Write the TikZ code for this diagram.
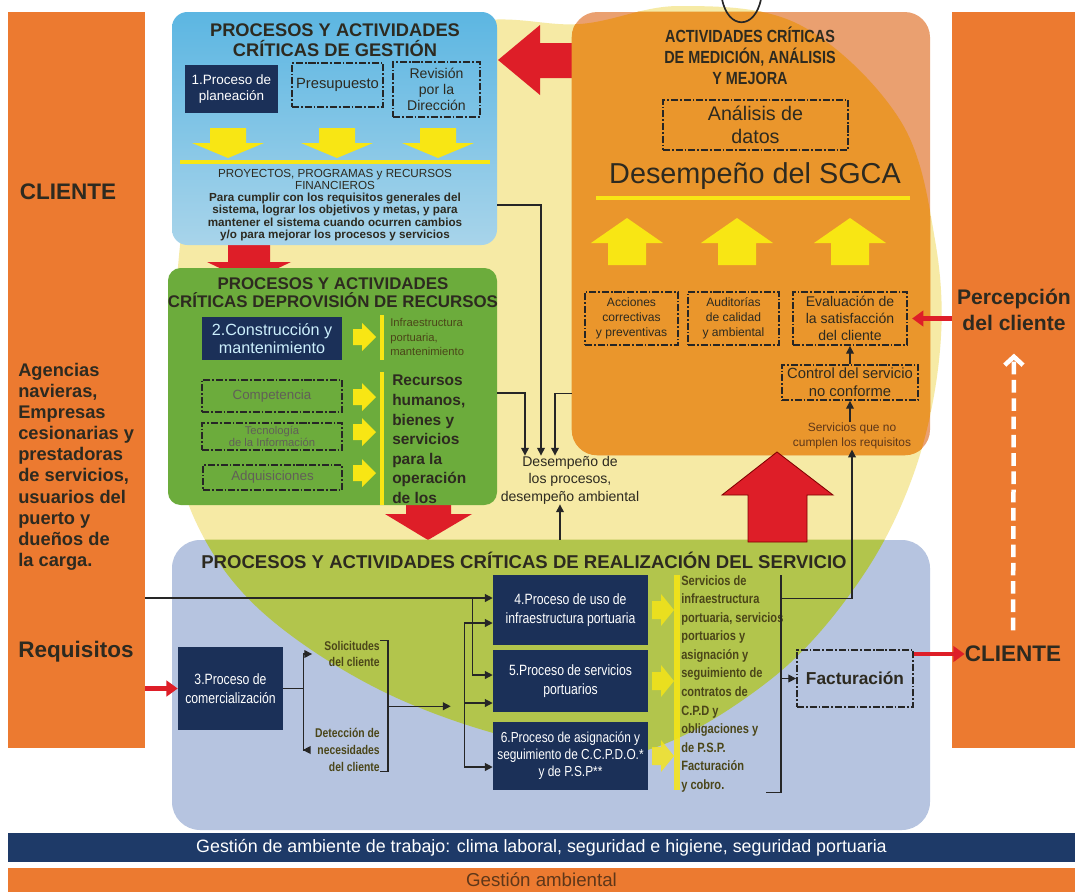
\documentclass[tikz,border=0pt]{standalone}
\usepackage{fontspec}
\setmainfont{Liberation Sans}
\newfontfamily\narrowsans[FakeStretch=0.82]{Liberation Sans}
\usepackage{tikz}
\usetikzlibrary{arrows.meta,positioning,fit,calc}

\definecolor{colOr}{RGB}{236,122,48}
\definecolor{paleY}{RGB}{246,234,165}
\definecolor{oliveG}{RGB}{178,197,76}
\definecolor{steelB}{RGB}{182,196,224}
\definecolor{gestTop}{RGB}{92,182,226}
\definecolor{gestBot}{RGB}{168,212,234}
\definecolor{provG}{RGB}{108,172,60}
\definecolor{salmon}{RGB}{234,160,112}
\definecolor{medOr}{RGB}{234,150,44}
\definecolor{navyB}{RGB}{27,48,88}
\definecolor{barNavy}{RGB}{30,58,104}
\definecolor{redA}{RGB}{222,30,40}
\definecolor{yelA}{RGB}{248,230,20}
\definecolor{txtDark}{RGB}{45,42,32}
\definecolor{oliveTxt}{RGB}{75,70,25}
\definecolor{brownTxt}{RGB}{95,55,25}

% outline of the big circle behind the process boxes
\def\sgcaregion{plot[smooth cycle, tension=0.6] coordinates {(680,6) (800,25) (900,120) (935,240) (940,350) (915,470) (860,580) (770,680) (640,752) (520,740) (380,690) (260,610) (195,520) (172,420) (175,300) (200,170) (300,70) (470,22) (580,24)}}

\begin{document}
\begin{tikzpicture}[
    x=0.025cm, y=-0.025cm,
    sz/.style 2 args={minimum width=#1*0.025cm, minimum height=#2*0.025cm},
    colbox/.style={fill=colOr, inner sep=0pt},
    coltxt/.style={font=\fontsize{16}{19}\selectfont\bfseries, text=txtDark, align=center, inner sep=0pt},
    gestbox/.style={rounded corners=11pt, top color=gestTop, bottom color=gestBot, inner sep=0pt},
    provbox/.style={rounded corners=9pt, fill=provG, inner sep=0pt},
    medbox/.style={rounded corners=18pt, fill=salmon, inner sep=0pt},
    realbox/.style={rounded corners=20pt, fill=steelB, inner sep=0pt},
    navybox/.style={fill=navyB, inner sep=0pt, text=white, align=center, font=\narrowsans\fontsize{10.6}{13.5}\selectfont},
    ddbox/.style={draw=black!85, line width=1.3pt, dash pattern=on 5pt off 1.4pt on 1.2pt off 1.4pt, inner sep=0pt, align=center, text=txtDark, font=\fontsize{8.6}{10.6}\selectfont},
    ttl/.style={font=\fontsize{13}{14.2}\selectfont\bfseries, text=txtDark, align=center, inner sep=0pt},
    note/.style={font=\fontsize{10}{12.5}\selectfont, text=txtDark, align=center, inner sep=0pt},
    slim/.style={font=\narrowsans\bfseries\fontsize{9.6}{13.2}\selectfont, text=oliveTxt, align=left, inner sep=0pt},
    barbox/.style={inner sep=0pt, font=\fontsize{12.7}{14}\selectfont},
    yarrow/.style={fill=yelA},
    yline/.style={draw=yelA, line width=3pt},
    redblock/.style={fill=redA},
    wire/.style={line width=0.9pt, draw=black!85},
    conn/.style={wire, -{Triangle[length=5.5pt,width=5.5pt]}},
    redarr/.style={draw=redA, line width=3pt, -{Triangle[length=8pt,width=11pt]}},
    wdash/.style={draw=white, line width=3.2pt, dash pattern=on 9pt off 4pt, -{Straight Barb[length=6pt,width=13pt]}}
]
\useasboundingbox (0,0) rectangle (1079,894);
\fill[white] (0,0) rectangle (1079,894);

% Client columns
\node[colbox, fit={(8,12)(145,748)}] (cliL) {};
\node[colbox, fit={(952,12)(1075,748)}] (cliR) {};

% Background circle
\fill[paleY] \sgcaregion;

% Red block arrows behind the boxes
\fill[redblock] (228,232) -- (270,232) -- (270,262) -- (291,262) -- (249,282) -- (207,262) -- (228,262) -- cycle;
\fill[redblock] (406,495) -- (451,495) -- (451,514) -- (472,514) -- (428,540) -- (385,514) -- (406,514) -- cycle;

% Management processes (top left)
\node[gestbox, fit={(172,12)(497,245)}] (gest) {};
\node[ttl] (gestT) at (335,40) {PROCESOS Y ACTIVIDADES\\CRÍTICAS DE GESTIÓN};
\node[navybox, font=\fontsize{9.6}{12}\selectfont, sz={93}{48}] (plan) at (231.5,89) {1.Proceso de\\planeación};
\node[ddbox, font=\fontsize{10.5}{12}\selectfont, sz={91}{44}] (presu) at (337.5,85) {Presupuesto};
\node[ddbox, font=\fontsize{10}{11.5}\selectfont, sz={87}{55}] (revis) at (436.5,89.5) {Revisión\\por la\\Dirección};
\foreach \x in {228,337,438}
  \fill[yarrow] (\x-18,128) -- (\x+18,128) -- (\x+18,143) -- (\x+36,143) -- (\x,158) -- (\x-36,143) -- (\x-18,143) -- cycle;
\draw[yline] (180,162) -- (490,162);
\node[note, font=\fontsize{8.3}{8.6}\selectfont] (proy) at (335,205) {PROYECTOS, PROGRAMAS y RECURSOS\\FINANCIEROS\\\bfseries Para cumplir con los requisitos generales del\\\bfseries sistema, lograr los objetivos y metas, y para\\\bfseries mantener el sistema cuando ocurren cambios\\\bfseries y/o para mejorar los procesos y servicios};

% Red arrow back to management
\fill[redblock] (590,43) -- (540,43) -- (540,25) -- (498,60) -- (540,95) -- (540,78) -- (590,78) -- cycle;

% Resource provision (middle left)
\node[provbox, fit={(168,268)(497,505)}] (prov) {};
\node[ttl, font=\fontsize{12}{12.8}\selectfont\bfseries] (provT) at (333,293) {PROCESOS Y ACTIVIDADES\\CRÍTICAS DEPROVISIÓN DE RECURSOS};
\node[navybox, text=white!80!cyan, font=\fontsize{11.5}{12.5}\selectfont, sz={140}{43}] (cons) at (272,338.5) {2.Construcción y\\mantenimiento};
\node[ddbox, text=txtDark!75, font=\fontsize{9.5}{11}\selectfont, sz={140}{32}] (compe) at (272,396) {Competencia};
\node[ddbox, text=txtDark!75, font=\fontsize{8}{9}\selectfont, sz={140}{27}] (tecno) at (272,436.5) {Tecnología\\de la Información};
\node[ddbox, text=txtDark!75, font=\fontsize{9.5}{11}\selectfont, sz={139}{25}] (adqui) at (272.5,477.5) {Adquisiciones};
\foreach \y in {337,397,432,473}
  \fill[yarrow] (353,\y-8) -- (362,\y-8) -- (362,\y-14) -- (376,\y) -- (362,\y+14) -- (362,\y+8) -- (353,\y+8) -- cycle;
\draw[yline] (382,315) -- (382,360);
\draw[yline] (382,372) -- (382,505);
\node[note, font=\fontsize{8}{10.5}\selectfont, align=left, anchor=north west, text=oliveTxt] (infra) at (390,318) {Infraestructura\\portuaria,\\mantenimiento};
\begin{scope}
  \clip[rounded corners=9pt] (prov.south west) rectangle (prov.north east);
  \node[note, font=\fontsize{11}{13.9}\selectfont\bfseries, align=left, anchor=north west] (recu) at (392,375) {Recursos\\humanos,\\bienes y\\servicios\\para la\\operación\\de los\\procesos};
\end{scope}

% Measurement, analysis and improvement (top right)
\node[medbox, fit={(572,12)(930,455)}] (med) {};
\begin{scope}
  \clip[rounded corners=18pt] (med.south west) rectangle (med.north east);
  \fill[medOr] \sgcaregion;
\end{scope}
\draw[line width=1.2pt, black!85] (722,-1) .. controls (728,30) and (755,30) .. (761,-1);
\node[ttl, font=\narrowsans\fontsize{12.5}{15}\selectfont\bfseries] (medT) at (750,56) {ACTIVIDADES CRÍTICAS\\DE MEDICIÓN, ANÁLISIS\\Y MEJORA};
\node[ddbox, font=\fontsize{14}{16.5}\selectfont, sz={185}{50}] (anal) at (755.5,125) {Análisis de\\datos};
\node[note, font=\fontsize{20.5}{22}\selectfont] (sgca) at (755,176) {Desempeño del SGCA};
\draw[yline] (596,198) -- (910,198);
\foreach \x in {627,737,850}
  \fill[yarrow] (\x-19,265) -- (\x-19,243) -- (\x-36,243) -- (\x,218) -- (\x+36,243) -- (\x+19,243) -- (\x+19,265) -- cycle;
\node[ddbox, sz={93}{53}] (acc) at (631.5,318.5) {Acciones\\correctivas\\y preventivas};
\node[ddbox, sz={91}{53}] (audi) at (733.5,318.5) {Auditorías\\de calidad\\y ambiental};
\node[ddbox, font=\fontsize{10}{12}\selectfont, sz={114}{53}] (eval) at (850,318.5) {Evaluación de\\la satisfacción\\del cliente};
\node[ddbox, font=\fontsize{10.5}{12.5}\selectfont, sz={136}{35}] (ctrl) at (850,382.5) {Control del servicio\\no conforme};
\node[note, font=\fontsize{8.5}{11}\selectfont, text=brownTxt] (nocum) at (852,436) {Servicios que no\\cumplen los requisitos};
\draw[conn] (ctrl) -- (eval);
\draw[conn] (nocum.north -| ctrl.south) -- (ctrl.south);

% Service realisation (bottom)
\node[realbox, fit={(172,540)(930,830)}] (real) {};
\begin{scope}
  \clip[rounded corners=20pt] (real.south west) rectangle (real.north east);
  \fill[oliveG] \sgcaregion;
\end{scope}
\fill[redblock, draw=red!50!black, line width=0.6pt] (748,542) -- (748,495) -- (722,495) -- (777,452) -- (833,495) -- (807,495) -- (807,542) -- cycle;
\node[ttl, font=\fontsize{13.2}{15}\selectfont\bfseries] (realT) at (524,560) {PROCESOS Y ACTIVIDADES CRÍTICAS DE REALIZACIÓN DEL SERVICIO};
\node[navybox, sz={105}{83}] (comer) at (230.5,688.5) {3.Proceso de\\comercialización};
\node[slim, font=\narrowsans\bfseries\fontsize{9}{12}\selectfont, align=right, anchor=east] (solic) at (380,654) {Solicitudes\\del cliente};
\node[slim, font=\narrowsans\bfseries\fontsize{9}{12}\selectfont, align=right, anchor=east] (detec) at (380,750) {Detección de\\necesidades\\del cliente};
\node[navybox, sz={155}{70}] (uso) at (570.5,610) {4.Proceso de uso de\\infraestructura portuaria};
\node[navybox, sz={155}{62}] (serv) at (570.5,681) {5.Proceso de servicios\\portuarios};
\node[navybox, font=\narrowsans\fontsize{10.3}{12}\selectfont, sz={155}{68}] (asig) at (570.5,756) {6.Proceso de asignación y\\seguimiento de C.C.P.D.O.*\\y de P.S.P**};
\foreach \y in {610,681,756}
  \fill[yarrow, opacity=0.8] (652,\y-9) -- (661,\y-9) -- (661,\y-16) -- (674,\y) -- (661,\y+16) -- (661,\y+9) -- (652,\y+9) -- cycle;
\draw[yline, line width=4pt, opacity=0.85] (677,575) -- (677,790);
\node[slim, anchor=north west] (servt) at (681,575) {Servicios de\\infraestructura\\portuaria, servicios\\portuarios y\\asignación y\\seguimiento de\\contratos de\\C.P.D y\\obligaciones y\\de P.S.P.\\Facturación\\y cobro.};
\node[ddbox, font=\fontsize{12.3}{14}\selectfont\bfseries, sz={116}{57}] (fact) at (855,678.5) {Facturación};

% Connections inside the realisation block
\draw[conn] (comer.east) -- ++(0.5cm,0) |- ([xshift=-0.3cm]solic.west);
\draw[conn] (comer.east) -- ++(0.5cm,0) |- ([xshift=-0.3cm]detec.west);
\draw[wire] (solic.north east) -- ++(0.2cm,0) |- (detec.south east);
\coordinate (brm) at ($(solic.north east)!0.5!(detec.south east)+(0.2cm,0)$);
\coordinate (split) at ($(brm -| uso.west)+(-0.7cm,0)$);
\draw[conn, shorten >=0.35cm] (brm) -- (split);
\draw[conn] (split) |- ([yshift=-0.325cm]uso.west);
\draw[conn] (split) |- ([yshift=-0.55cm]serv.west);
\draw[conn] (split) |- ([yshift=-0.275cm]asig.west);
\coordinate (tap) at ($(uso.west)+(-0.5cm,0.3cm)$);
\draw[conn] (cliL.east |- tap) -- ([yshift=0.3cm]uso.west);
\draw[conn] (tap) |- ([yshift=0.15cm]serv.west);
\coordinate (sbr) at ($(fact.west)+(-0.375cm,0)$);
\draw[wire] (sbr |- servt.north) -- (sbr |- servt.south) -- ++(-0.375cm,0);
\draw[conn] (sbr) -- (fact.west);
\coordinate (sup) at ($(sbr)+(0,2cm)$);
\draw[conn] (sup) -| (nocum.south);

% Performance of processes
\node[note, font=\fontsize{10}{12.5}\selectfont] (desem) at (570,480) {Desempeño de\\los procesos,\\desempeño ambiental};
\draw[conn] (gest.east |- proy) -| ([xshift=-0.725cm]desem.north);
\draw[conn] ([yshift=-0.16cm]prov.east) -| ([xshift=-1.125cm]desem.north);
\draw[conn] ([yshift=-4cm]med.west) -| ([xshift=-0.375cm]desem.north);
\coordinate (dsup) at ([xshift=-0.25cm]desem.south);
\draw[conn] (dsup |- real.north) -- (dsup);

% Client texts
\node[coltxt] (cliLt) at (68,192) {CLIENTE};
\node[coltxt, font=\fontsize{13}{15}\selectfont\bfseries, align=left, anchor=north west] (agen) at (18,363) {Agencias\\navieras,\\Empresas\\cesionarias y\\prestadoras\\de servicios,\\usuarios del\\puerto y\\dueños de\\la carga.};
\node[coltxt] (req) at (76,652) {Requisitos};
\node[coltxt, font=\fontsize{15}{18.5}\selectfont\bfseries] (percep) at (1014,310) {Percepción\\del cliente};
\node[coltxt] (cliRt) at (1013,654) {CLIENTE};
\draw[wdash, shorten <=11pt, shorten >=16pt] (cliRt.north) -- (percep.south);
\draw[redarr] (cliL.east |- comer.west) -- (comer.west);
\draw[redarr] (fact.east |- cliRt.west) -- (cliRt.west);
\draw[redarr, shorten >=3pt] (cliR.west |- eval.east) -- (eval.east);

% Support bars
\node[barbox, fill=barNavy, text=white, sz={1067}{29}] (trab) at (541.5,847.5) {Gestión de ambiente de trabajo: clima laboral, seguridad e higiene, seguridad portuaria};
\node[barbox, fill=colOr, text=brownTxt, font=\fontsize{13.3}{14}\selectfont, sz={1067}{24}] (gamb) at (541.5,880) {Gestión ambiental};
\end{tikzpicture}
\end{document}
